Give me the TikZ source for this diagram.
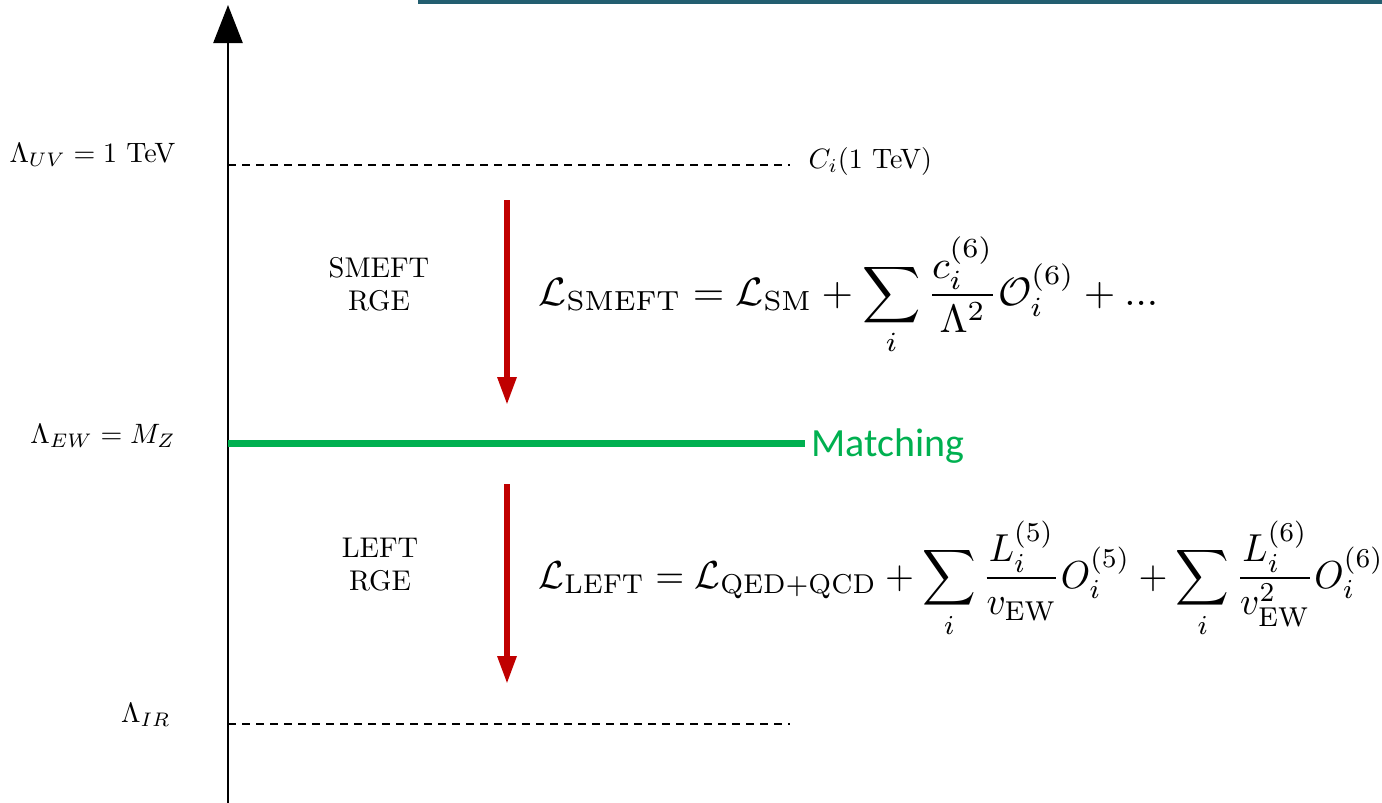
\documentclass[tikz,border=0pt]{standalone}
\usepackage{amsmath}
\usepackage{fontspec}
\newfontfamily\calibri{Carlito}
\usetikzlibrary{arrows.meta}
\definecolor{barteal}{RGB}{35,94,112}
\definecolor{rgered}{RGB}{192,0,0}
\definecolor{matchgreen}{RGB}{0,176,80}
\tikzset{
  axisline/.style={line width=2.5pt,-{Triangle[width=29pt,length=38pt]}},
  levelline/.style={line width=1.6pt,dash pattern=on 8pt off 6pt},
  rgearrow/.style={rgered,line width=6pt,-{Triangle[width=18pt,length=28pt]}},
  scalelabel/.style={scale=2.8,anchor=base east,inner sep=0pt},
  rgelabel/.style={scale=2.85,anchor=base,inner sep=0pt},
}
\begin{document}
\begin{tikzpicture}[x=1pt,y=-1pt]
\useasboundingbox (0,0) rectangle (1382,803);
\fill[barteal] (418,0) rectangle (1382,4);
% axis
\coordinate (axbot) at (228,803);
\coordinate (axtop) at (228,5);
\draw[axisline] (axbot) -- (axtop);
% levels
\coordinate (uvL) at (228,165);
\coordinate (uvR) at (790,165);
\draw[levelline] (uvL) -- (uvR);
\node[scalelabel] (uvlab) at (176,162) {$\Lambda_{UV}=1$ TeV};
\node[scale=2.8,anchor=base west,inner sep=0pt] (ci) at (808,168) {$C_i(1$ TeV$)$};
\coordinate (irL) at (228,724);
\coordinate (irR) at (790,724);
\draw[levelline] (irL) -- (irR);
\node[scalelabel] (irlab) at (171,722) {$\Lambda_{IR}$};
% matching
\coordinate (ewL) at (228,443);
\coordinate (ewR) at (805,443);
\draw[matchgreen,line width=7pt] (ewL) -- (ewR);
\node[scalelabel] (ewlab) at (176,443) {$\Lambda_{EW}=M_Z$};
\node[anchor=base west,inner sep=0pt,text=matchgreen,font=\calibri\fontsize{40}{48}\selectfont] (match) at (811,456) {Matching};
% RGE arrows
\coordinate (a1s) at (507,200);
\coordinate (a1e) at (507,405);
\draw[rgearrow] (a1s) -- (a1e);
\coordinate (a2s) at (507,484);
\coordinate (a2e) at (507,684);
\draw[rgearrow] (a2s) -- (a2e);
\node[rgelabel] (smeft1) at (379,277) {SMEFT};
\node[rgelabel] (smeft2) at (379,310) {RGE};
\node[rgelabel] (left1) at (380,557) {LEFT};
\node[rgelabel] (left2) at (380,590) {RGE};
% formulas
\node[xscale=4.05,yscale=3.95,anchor=base west,inner sep=0pt] (smeft) at (538,305) {$\displaystyle \mathcal{L}_{\mathrm{SMEFT}}=\mathcal{L}_{\mathrm{SM}}+\sum_i\frac{c_i^{(6)}}{\Lambda^2}\mathcal{O}_i^{(6)}+{...}$};
\node[xscale=3.72,yscale=3.9,anchor=base west,inner sep=0pt] (left) at (538,588) {$\displaystyle \mathcal{L}_{\mathrm{LEFT}}=\mathcal{L}_{\mathrm{QED+QCD}}+\sum_i\frac{L_i^{(5)}}{v_{\mathrm{EW}}}O_i^{(5)}+\sum_i\frac{L_i^{(6)}}{v_{\mathrm{EW}}^2}O_i^{(6)}$};
\end{tikzpicture}
\end{document}
